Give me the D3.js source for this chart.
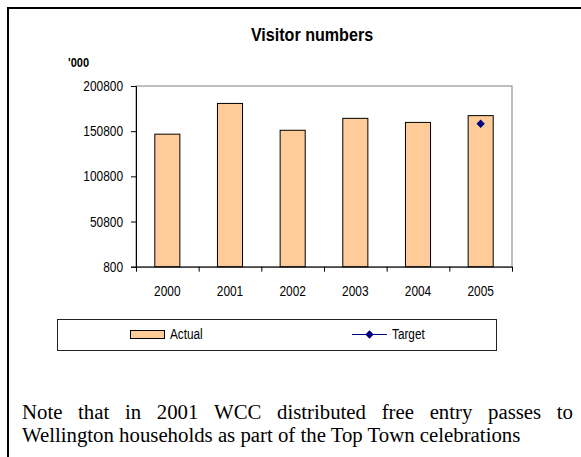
<!DOCTYPE html>
<html><head><meta charset="utf-8">
<script src="https://cdn.jsdelivr.net/npm/d3@7/dist/d3.min.js"></script>
<style>
html,body{margin:0;padding:0;background:#fff;}
svg{display:block;}
</style></head>
<body>
<svg id="c" width="581" height="457"></svg>
<script>
const years = ["2000","2001","2002","2003","2004","2005"];
const actual = [147500, 181500, 151800, 165000, 160500, 168000];
const targetYears = ["2005"];
const targetValues = [159000];
const yTicks = [800, 50800, 100800, 150800, 200800];
const title = "Visitor numbers";
const unitLabel = "'000";
const seriesNames = ["Actual", "Target"];
const noteLines = ["Note that in 2001 WCC distributed free entry passes to",
                   "Wellington households as part of the Top Town celebrations"];

const svg = d3.select("#c");
const sans = "'Liberation Sans',Arial,sans-serif";
const serif = "'Liberation Serif','Times New Roman',serif";
// emulate a condensed face by compressing glyphs horizontally
function condense(sel, k){
  sel.each(function(){
    const n = this;
    const w = n.getComputedTextLength();
    d3.select(n).attr("textLength", w*k).attr("lengthAdjust","spacingAndGlyphs");
  });
}

// outer frame
svg.append("path").attr("d","M8,460 L8,8 L600,8").attr("fill","none").attr("stroke","#000").attr("stroke-width",2);

const L=136, R=512, T=86, B=266.7;
const x = d3.scaleBand().domain(years).range([L,R]).paddingInner(0.6).paddingOuter(0.3);
const xEdge = d3.scaleLinear().domain([0, years.length]).range([L,R]);
const y = d3.scaleLinear().domain([800,200800]).range([B,T]);

// plot area border
svg.append("rect").attr("x",L).attr("y",T).attr("width",R-L).attr("height",B-T)
  .attr("fill","none").attr("stroke","#808080").attr("stroke-width",1);

// bars
svg.selectAll("rect.bar").data(years).enter().append("rect").attr("class","bar")
  .attr("x",d=>x(d)).attr("width",x.bandwidth())
  .attr("y",(d,i)=>y(actual[i])).attr("height",(d,i)=>B-y(actual[i]))
  .attr("fill","#FFCC99").attr("stroke","#000").attr("stroke-width",1);

// target markers
const diamond = d3.symbol().type(d3.symbolDiamond2).size(44);
svg.selectAll("path.tgt").data(targetYears).enter().append("path").attr("class","tgt")
  .attr("d",diamond)
  .attr("transform",(d,i)=>`translate(${x(d)+x.bandwidth()/2},${y(targetValues[i])})`)
  .attr("fill","#000080");

// y axis
const ya = svg.append("g").attr("transform",`translate(${L},0)`)
  .call(d3.axisLeft(y).tickValues(yTicks).tickSize(5).tickPadding(8).tickFormat(d3.format("d")));
ya.select(".domain").attr("stroke","#000");
ya.selectAll(".tick line").attr("stroke","#000");
ya.selectAll("text").attr("font-family",sans).attr("font-size","14px").attr("fill","#000");
condense(ya.selectAll("text"), 0.85);

// x axis ticks at category edges
const xa = svg.append("g").attr("transform",`translate(0,${B})`)
  .call(d3.axisBottom(xEdge).tickValues(d3.range(years.length+1)).tickSize(5).tickFormat(""));
xa.select(".domain").attr("stroke","#000").attr("d",`M${L},0.5H${R}`);
xa.selectAll(".tick line").attr("stroke","#000");
const xl = svg.append("g").attr("transform",`translate(0,${B})`)
  .call(d3.axisBottom(x).tickSize(0).tickPadding(19));
xl.select(".domain").remove();
xl.selectAll("text").attr("font-family",sans).attr("font-size","14px").attr("fill","#000");
condense(xl.selectAll("text"), 0.85);

// title
const tt = svg.append("text").attr("x",312).attr("y",41).attr("text-anchor","middle")
  .attr("font-family",sans).attr("font-weight","bold").attr("font-size","18.5px").text(title);
condense(tt, 0.87);
const ut = svg.append("text").attr("x",68).attr("y",67)
  .attr("font-family",sans).attr("font-weight","bold").attr("font-size","13px").text(unitLabel);
condense(ut, 0.85);

// legend
svg.append("rect").attr("x",57.5).attr("y",319.5).attr("width",439).attr("height",31)
  .attr("fill","#fff").attr("stroke","#222").attr("stroke-width",1);
svg.append("rect").attr("x",130.5).attr("y",330.5).attr("width",34).attr("height",8)
  .attr("fill","#FFCC99").attr("stroke","#000");
const la = svg.append("text").attr("x",170).attr("y",339).attr("font-family",sans).attr("font-size","14px").text(seriesNames[0]);
condense(la, 0.84);
svg.append("line").attr("x1",352).attr("x2",387).attr("y1",334.5).attr("y2",334.5).attr("stroke","#000080").attr("stroke-width",1);
svg.append("path").attr("d",diamond).attr("transform","translate(369.5,334.5)").attr("fill","#000080");
const lt = svg.append("text").attr("x",392).attr("y",339).attr("font-family",sans).attr("font-size","14px").text(seriesNames[1]);
condense(lt, 0.84);

// note text
const noteSize = 20.8;
svg.append("text").attr("x",22).attr("y",442).attr("font-family",serif).attr("font-size",noteSize+"px").text(noteLines[1]);
// justify line 1 between 22 and 573
const words = noteLines[0].split(" ");
const g1 = svg.append("g");
const ws = words.map(w=>{
  const t = g1.append("text").attr("y",419).attr("font-family",serif).attr("font-size",noteSize+"px").text(w);
  return {t, w:t.node().getComputedTextLength()};
});
const total = d3.sum(ws,d=>d.w);
const gap = (573-22-total)/(words.length-1);
let cx = 22;
ws.forEach(d=>{ d.t.attr("x",cx); cx += d.w + gap; });
</script>
</body></html>
